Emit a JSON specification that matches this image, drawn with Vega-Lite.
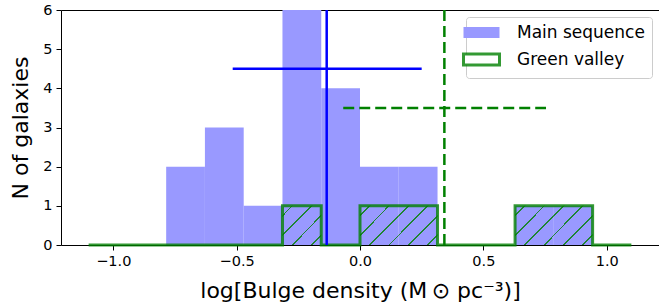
{
  "$schema": "https://vega.github.io/schema/vega-lite/v6.json",
  "width": 598,
  "height": 235,
  "autosize": {"type": "none"},
  "padding": {"left": 61, "top": 10, "right": 0, "bottom": 62},
  "background": "white",
  "config": {
    "view": {"stroke": "black", "strokeWidth": 1},
    "font": "DejaVu Sans",
    "axis": {
      "domain": false, "grid": false, "tickColor": "black", "tickSize": 5, "tickWidth": 1,
      "labelColor": "black", "labelFontSize": 14.5, "labelFont": "DejaVu Sans",
      "titleFontSize": 22, "titleFontWeight": "normal", "titleColor": "black", "titleFont": "DejaVu Sans"
    },
    "axisY": {"labelOverlap": false, "tickCount": 7}
  },
  "datasets": {
    "main": [
      {"x": -0.7857, "x2": -0.6286, "y": 2, "series": "Main sequence"},
      {"x": -0.6286, "x2": -0.4714, "y": 3, "series": "Main sequence"},
      {"x": -0.4714, "x2": -0.3143, "y": 1, "series": "Main sequence"},
      {"x": -0.3143, "x2": -0.1571, "y": 6, "series": "Main sequence"},
      {"x": -0.1571, "x2": 0.0, "y": 4, "series": "Main sequence"},
      {"x": 0.0, "x2": 0.1571, "y": 2, "series": "Main sequence"},
      {"x": 0.1571, "x2": 0.3143, "y": 2, "series": "Main sequence"},
      {"x": 0.6286, "x2": 0.7857, "y": 1, "series": "Main sequence"},
      {"x": 0.7857, "x2": 0.9429, "y": 1, "series": "Main sequence"}
    ],
    "green": [
      {"x": -1.1, "x2": -0.9429, "y": 0},
      {"x": -0.9429, "x2": -0.7857, "y": 0},
      {"x": -0.7857, "x2": -0.6286, "y": 0},
      {"x": -0.6286, "x2": -0.4714, "y": 0},
      {"x": -0.4714, "x2": -0.3143, "y": 0},
      {"x": -0.3143, "x2": -0.1571, "y": 1},
      {"x": -0.1571, "x2": 0.0, "y": 0},
      {"x": 0.0, "x2": 0.1571, "y": 1},
      {"x": 0.1571, "x2": 0.3143, "y": 1},
      {"x": 0.3143, "x2": 0.4714, "y": 0},
      {"x": 0.4714, "x2": 0.6286, "y": 0},
      {"x": 0.6286, "x2": 0.7857, "y": 1},
      {"x": 0.7857, "x2": 0.9429, "y": 1},
      {"x": 0.9429, "x2": 1.1, "y": 0},
      {"x": 1.1, "x2": 1.1, "y": 0}
    ],
    "stats": [
      {"series": "Main sequence", "xc": -0.135, "x": -0.516, "x2": 0.25, "y": 4.5},
      {"series": "Green valley", "xc": 0.342, "x": -0.068, "x2": 0.754, "y": 3.5}
    ]
  },
  "layer": [
    {
      "data": {"name": "main"},
      "mark": {"type": "rect", "clip": true},
      "encoding": {
        "x": {"field": "x", "type": "quantitative", "scale": {"domain": [-1.212, 1.212], "nice": false, "zero": false},
              "axis": {"values": [-1, -0.5, 0, 0.5, 1], "labelExpr": "replace(format(datum.value, '.1f'), '-', '\u2212')", "title": "log[Bulge density (M\u2009\u2299 pc\u207b\u00b3)]", "titlePadding": 13, "labelPadding": 4}},
        "x2": {"field": "x2"},
        "y": {"field": "y", "type": "quantitative", "scale": {"domain": [0, 6], "nice": false},
              "axis": {"values": [0, 1, 2, 3, 4, 5, 6], "title": "N of galaxies", "titlePadding": 10, "labelPadding": 4, "labelOverlap": false}},
        "y2": {"datum": 0},
        "color": {
          "field": "series", "type": "nominal",
          "scale": {"domain": ["Main sequence", "Green valley"], "range": ["#9999ff", "#ffffff"]},
          "legend": {
            "title": null, "orient": "top-right", "offset": 7,
            "symbolType": "M-3,-0.9H3V0.9H-3Z", "symbolSize": 144, "symbolOpacity": 1,
            "labelFontSize": 17, "labelFont": "DejaVu Sans", "labelColor": "black", "labelOffset": 27,
            "strokeColor": "#cccccc", "fillColor": "white", "cornerRadius": 3, "padding": 7, "rowPadding": 4,
            "encode": {
              "symbols": {
                "update": {
                  "stroke": {"signal": "datum.label === 'Green valley' ? 'rgba(0,128,0,0.8)' : 'transparent'"},
                  "strokeWidth": {"value": 3}
                }
              }
            }
          }
        }
      }
    },
    {
      "data": {"name": "green"},
      "transform": [{"filter": "datum.y > 0"}],
      "mark": {
        "type": "rect",
        "fill": {
          "gradient": "linear", "x1": 0, "y1": 0, "x2": 1, "y2": 1,
          "stops": [
            {"offset": 0, "color": "rgba(0,128,0,0)"},
            {"offset": 0.113, "color": "rgba(0,128,0,0)"},
            {"offset": 0.113, "color": "rgba(0,128,0,0.8)"},
            {"offset": 0.137, "color": "rgba(0,128,0,0.8)"},
            {"offset": 0.137, "color": "rgba(0,128,0,0)"},
            {"offset": 0.363, "color": "rgba(0,128,0,0)"},
            {"offset": 0.363, "color": "rgba(0,128,0,0.8)"},
            {"offset": 0.387, "color": "rgba(0,128,0,0.8)"},
            {"offset": 0.387, "color": "rgba(0,128,0,0)"},
            {"offset": 0.613, "color": "rgba(0,128,0,0)"},
            {"offset": 0.613, "color": "rgba(0,128,0,0.8)"},
            {"offset": 0.637, "color": "rgba(0,128,0,0.8)"},
            {"offset": 0.637, "color": "rgba(0,128,0,0)"},
            {"offset": 0.863, "color": "rgba(0,128,0,0)"},
            {"offset": 0.863, "color": "rgba(0,128,0,0.8)"},
            {"offset": 0.887, "color": "rgba(0,128,0,0.8)"},
            {"offset": 0.887, "color": "rgba(0,128,0,0)"},
            {"offset": 1, "color": "rgba(0,128,0,0)"}
          ]
        }
      },
      "encoding": {
        "x": {"field": "x", "type": "quantitative"},
        "x2": {"field": "x2"},
        "y": {"field": "y", "type": "quantitative"},
        "y2": {"datum": 0}
      }
    },
    {
      "data": {"name": "green"},
      "mark": {"type": "line", "interpolate": "step-after", "stroke": "#008000", "strokeOpacity": 0.8, "strokeWidth": 3},
      "encoding": {
        "x": {"field": "x", "type": "quantitative"},
        "y": {"field": "y", "type": "quantitative"}
      }
    },
    {
      "data": {"name": "stats"},
      "transform": [{"filter": "datum.series === 'Main sequence'"}],
      "mark": {"type": "rule", "color": "#0000ff", "strokeWidth": 2.5},
      "encoding": {"x": {"field": "xc", "type": "quantitative"}}
    },
    {
      "data": {"name": "stats"},
      "transform": [{"filter": "datum.series === 'Main sequence'"}],
      "mark": {"type": "rule", "color": "#0000ff", "strokeWidth": 2.5},
      "encoding": {
        "x": {"field": "x", "type": "quantitative"},
        "x2": {"field": "x2"},
        "y": {"field": "y", "type": "quantitative"}
      }
    },
    {
      "data": {"name": "stats"},
      "transform": [{"filter": "datum.series === 'Green valley'"}],
      "mark": {"type": "rule", "color": "#008000", "strokeWidth": 2.5, "strokeDash": [11, 5]},
      "encoding": {"x": {"field": "xc", "type": "quantitative"}}
    },
    {
      "data": {"name": "stats"},
      "transform": [{"filter": "datum.series === 'Green valley'"}],
      "mark": {"type": "rule", "color": "#008000", "strokeWidth": 2.5, "strokeDash": [11, 5]},
      "encoding": {
        "x": {"field": "x", "type": "quantitative"},
        "x2": {"field": "x2"},
        "y": {"field": "y", "type": "quantitative"}
      }
    }
  ]
}
